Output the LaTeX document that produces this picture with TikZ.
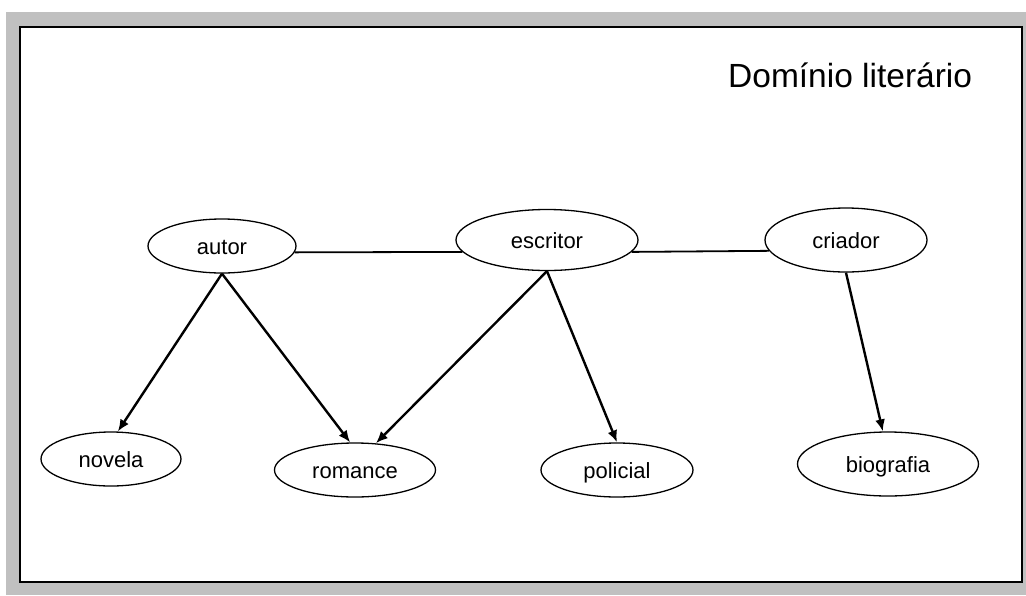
\documentclass[tikz,border=0pt]{standalone}
\usepackage{fontspec}
\setmainfont{Liberation Sans}
\usetikzlibrary{shapes.geometric,arrows.meta}
\definecolor{moldura}{RGB}{192,192,192}
\tikzset{
	termo/.style={ellipse, draw, line width=1.3pt, inner sep=0pt, text height=16pt, text depth=0pt, font=\fontsize{22}{22}\selectfont},
	liga/.style={line width=1.8pt},
	seta/.style={line width=2.4pt, -{Latex[length=12pt,width=10pt]}}
}

\begin{document}
\begin{tikzpicture}[x=1pt, y=-1pt]
			%%%%% START %%%%%
			\useasboundingbox (0, 0) rectangle (1026, 595);
			
			\fill[moldura] (6, 12) rectangle (1026, 595);
			\draw[fill=white, line width=1.5pt] (20, 27) rectangle (1022, 582);
			
			\node[anchor=base west, inner sep=0pt, font=\fontsize{33.5}{33.5}\selectfont] (titulo) at (728, 87) {Domínio literário};
			
			\node[termo, minimum width=148pt, minimum height=54pt] (autor) at (222, 246) {autor};
			\node[termo, minimum width=182pt, minimum height=61pt] (escritor) at (547, 240) {escritor};
			\node[termo, minimum width=162pt, minimum height=64pt] (criador) at (846, 240) {criador};
			
			\node[termo, minimum width=140pt, minimum height=54pt] (novela) at (111, 459) {novela};
			\node[termo, minimum width=161pt, minimum height=54pt] (romance) at (355, 470) {romance};
			\node[termo, minimum width=152pt, minimum height=54pt] (policial) at (617, 470) {policial};
			\node[termo, minimum width=181pt, minimum height=64pt] (biografia) at (888, 464) {biografia};
			
			\draw[liga] (autor.-5) -- (escritor.188);
			\draw[liga] (escritor.-8) -- (criador.188);
			
			\draw[seta] (autor.south) -- (novela.76);
			\draw[seta] (autor.south) -- (romance.100);
			\draw[seta] (escritor.south) -- (romance.52);
			\draw[seta] (escritor.south) -- (policial.north);
			\draw[seta] (criador.south) -- (biografia.99);
			
			%%%%% END %%%%%
\end{tikzpicture}
\end{document}
